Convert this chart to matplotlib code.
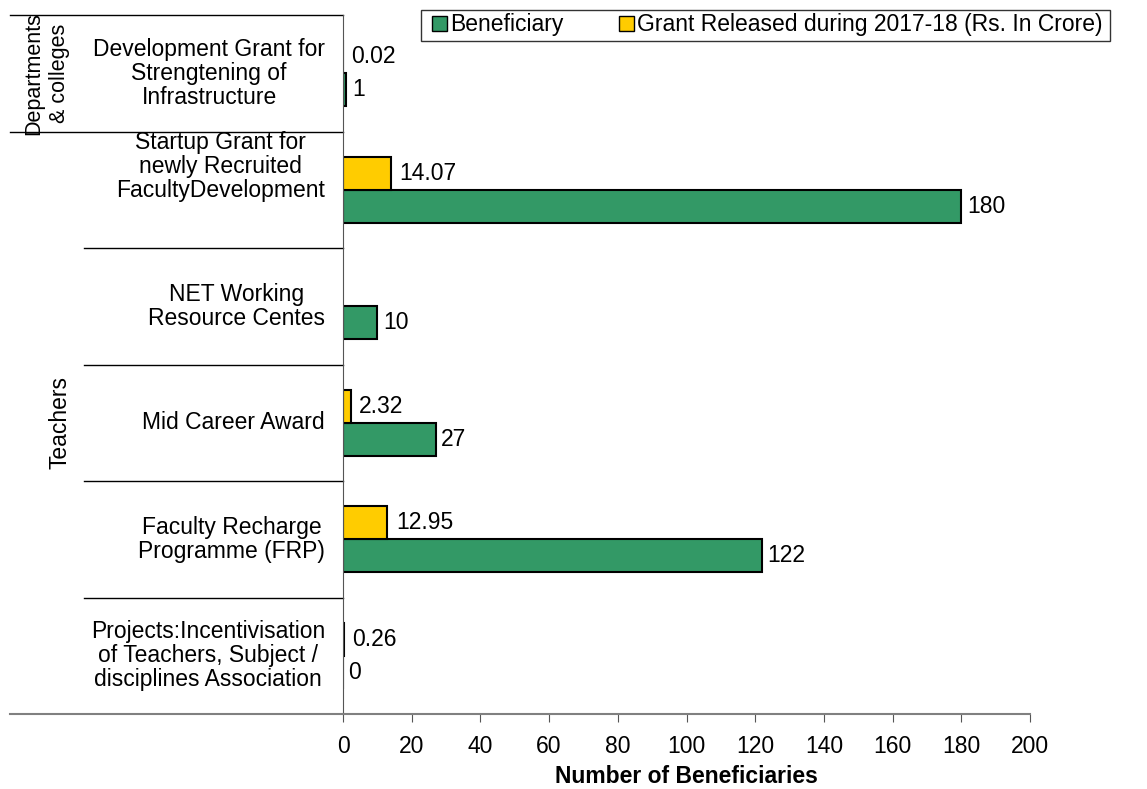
import numpy as np
import matplotlib
matplotlib.use('Agg')
import matplotlib.pyplot as plt
from matplotlib.patches import Patch, Rectangle

# data (top to bottom)
categories = [
    'Development Grant for\nStrengtening of\nInfrastructure',
    'Startup Grant for\nnewly Recruited\nFacultyDevelopment',
    'NET Working\nResource Centes',
    'Mid Career Award',
    'Faculty Recharge\nProgramme (FRP)',
    'Projects:Incentivisation\nof Teachers, Subject /\ndisciplines Association',
]
beneficiary = [1, 180, 10, 27, 122, 0]
grant = [0.02, 14.07, np.nan, 2.32, 12.95, 0.26]
groups = ['Departments\n& colleges', 'Teachers']
group_spans = [(0, 0), (1, 5)]

GREEN = '#339966'
YELLOW = '#FFCC00'
FS = 16.5

plt.rcParams['font.family'] = ['Liberation Sans', 'DejaVu Sans']

W, H = 1147, 789
fig = plt.figure(figsize=(W / 100, H / 100), dpi=100)
x0, x1, y0, y1 = 343, 1030, 15, 714
ax = fig.add_axes([x0 / W, 1 - y1 / H, (x1 - x0) / W, (y1 - y0) / H])

y = np.arange(len(categories))
h = 0.283
ax.barh(y + h / 2, beneficiary, height=h, color=GREEN, edgecolor='black', linewidth=1.5)
ax.barh(y - h / 2, grant, height=h, color=YELLOW, edgecolor='black', linewidth=1.5)

# value labels
for i, v in enumerate(beneficiary):
    ax.annotate(f'{v:g}', (v, i + h / 2), xytext=(4, 0), textcoords='offset points',
                va='center', ha='left', fontsize=FS)
for i, v in enumerate(grant):
    if np.isnan(v):
        continue
    ax.annotate(f'{v:.2f}', (v, i - h / 2), xytext=(6, 0), textcoords='offset points',
                va='center', ha='left', fontsize=FS)

ax.set_ylim(len(categories) - 0.5, -0.5)
ax.set_xlim(0, 200)
ax.set_xticks(np.arange(0, 201, 20))
ax.set_yticks([])
ax.tick_params(axis='x', labelsize=FS, length=6, color='#555555', pad=9)
for s in ['top', 'right']:
    ax.spines[s].set_visible(False)
ax.spines['bottom'].set_color('#808080')
ax.spines['bottom'].set_linewidth(1.5)
ax.spines['left'].set_color('#555555')
ax.set_xlabel('Number of Beneficiaries', fontsize=FS, fontweight='bold', labelpad=5)

# category labels and separators in the left area
tr = ax.get_yaxis_transform()
px = 1.0 / (x1 - x0)
label_shift = [0, -0.2, 0, 0, 0, 0]
for i, lab in enumerate(categories):
    ax.text(-18 * px, i + label_shift[i], lab, transform=tr, ha='right', va='center',
            multialignment='center', fontsize=FS, linespacing=1.05)

full_left = -(x0 - 10) * px
inner_left = -(x0 - 84) * px
ax.plot([full_left, 0], [-0.5, -0.5], transform=tr, color='black', lw=1, clip_on=False)
ax.plot([full_left, 0], [len(categories) - 0.5] * 2, transform=tr, color='#808080', lw=1.5, clip_on=False)
for g, (a, b) in enumerate(group_spans):
    if g > 0:
        ax.plot([full_left, 0], [a - 0.5, a - 0.5], transform=tr, color='black', lw=1, clip_on=False)
    for k in range(a + 1, b + 1):
        ax.plot([inner_left, 0], [k - 0.5, k - 0.5], transform=tr, color='black', lw=1, clip_on=False)

ax.text(-(x0 - 47) * px, 0, groups[0], transform=tr, rotation=90, ha='center', va='center',
        fontsize=15.5, linespacing=1.3)
ax.text(-(x0 - 60) * px, 3, groups[1], transform=tr, rotation=90, ha='center', va='center',
        fontsize=FS)

# legend
handles = [Patch(facecolor=GREEN, edgecolor='black', label='Beneficiary'),
           Patch(facecolor=YELLOW, edgecolor='black', label='Grant Released during 2017-18 (Rs. In Crore)')]
fig.legend(handles=handles, loc='center left', bbox_to_anchor=(432 / W, 1 - 25 / H), ncol=2,
           frameon=False, fontsize=FS, handlelength=0.65, handleheight=0.65, handletextpad=0.15,
           columnspacing=2.4, borderaxespad=0, borderpad=0)
fig.add_artist(Rectangle((421 / W, 1 - 41 / H), (1110 - 421) / W, 31 / H, transform=fig.transFigure,
                         fill=False, edgecolor='#333333', lw=1))

fig.savefig('out.png', dpi=100)
